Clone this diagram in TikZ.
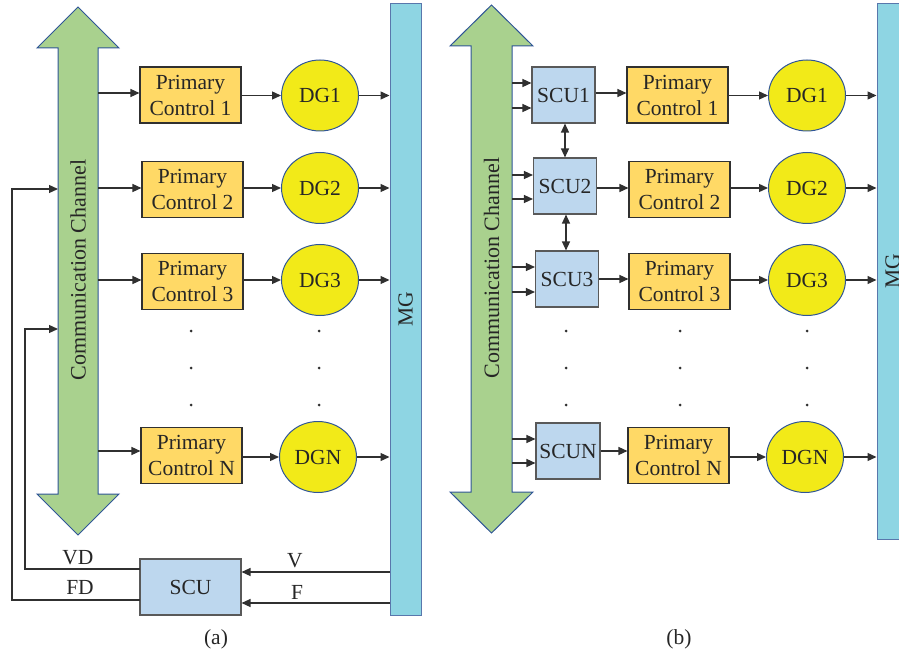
\documentclass[tikz,border=0pt]{standalone}
\usepackage{fontspec}
\setmainfont{Liberation Serif}
\usetikzlibrary{shapes.geometric,arrows.meta,calc}
\definecolor{chgreen}{HTML}{A9D18E}
\definecolor{chborder}{HTML}{2F5597}
\definecolor{pcfill}{HTML}{FFD966}
\definecolor{dgfill}{HTML}{F2EA18}
\definecolor{mgfill}{HTML}{8ED5E3}
\definecolor{scufill}{HTML}{BDD7EE}
\definecolor{darkline}{HTML}{303030}
\begin{document}
\begin{tikzpicture}[x=1pt,y=-1pt,
  every node/.style={font=\fontsize{21.5}{26}\selectfont, text=black!85},
  pcbox/.style={draw=darkline, line width=1.1pt, fill=pcfill, minimum width=101pt, minimum height=56pt, inner sep=0pt, align=center},
  scubox/.style={draw=darkline!80, line width=1.1pt, fill=scufill, minimum width=63pt, minimum height=56pt, inner sep=0pt, align=center},
  dgnode/.style={ellipse, draw=chborder, line width=1pt, fill=dgfill, minimum width=77pt, minimum height=71pt, inner sep=0pt},
  mgbar/.style={draw=chborder!80, line width=1pt, fill=mgfill, rotate=90, inner sep=0pt},
  chan/.style={draw=chborder, line width=1pt, fill=chgreen},
  arr/.style={draw=darkline, line width=1.3pt, -{Triangle[length=9pt,width=8pt]}},
  darr/.style={draw=darkline, line width=1.3pt, {Triangle[length=9pt,width=8pt]}-{Triangle[length=9pt,width=8pt]}},
  lbl/.style={inner sep=0pt},
  chantext/.style={inner sep=0pt, rotate=90, font=\fontsize{22}{26}\selectfont},
  dotm/.style={fill=darkline}
]
\useasboundingbox (0,0) rectangle (899,652);

% ================= (a) =================
\path[chan] (58,48) -- (37,48) -- (78,7) -- (119,48) -- (98,48) -- (98,494) -- (119,494) -- (78,535) -- (37,494) -- (58,494) -- cycle;
\node[chantext] (chanA) at (78,270) {Communication Channel};

\node[mgbar, minimum width=611pt, minimum height=31pt] (mgA) at (405.5,309.5) {MG};

\node[pcbox] (pa1) at (190.5,95) {Primary\\Control 1};
\node[pcbox] (pa2) at (192.5,189.5) {Primary\\Control 2};
\node[pcbox] (pa3) at (192.5,281.5) {Primary\\Control 3};
\node[pcbox] (paN) at (191.5,455.5) {Primary\\Control N};

\node[dgnode] (da1) at (320,95.5) {DG1};
\node[dgnode] (da2) at (320,188) {DG2};
\node[dgnode] (da3) at (320,280) {DG3};
\node[dgnode] (daN) at (318,457) {DGN};

\node[scubox, minimum width=101pt] (scuA) at (190.5,587) {SCU};

\coordinate (ca1) at (98,93);
\coordinate (ca2) at (98,188);
\coordinate (ca3) at (98,280);
\coordinate (caN) at (98,451);
\draw[arr] (ca1) -- (ca1 -| pa1.west);
\draw[arr] (ca2) -- (ca2 -| pa2.west);
\draw[arr] (ca3) -- (ca3 -| pa3.west);
\draw[arr] (caN) -- (caN -| paN.west);

\draw[arr] (da1.west -| pa1.east) -- (da1.west);
\draw[arr] (da2.west -| pa2.east) -- (da2.west);
\draw[arr] (da3.west -| pa3.east) -- (da3.west);
\draw[arr] (daN.west -| paN.east) -- (daN.west);

\draw[arr] (da1.east) -- (da1.east -| mgA.north);
\draw[arr] (da2.east) -- (da2.east -| mgA.north);
\draw[arr] (da3.east) -- (da3.east -| mgA.north);
\draw[arr] (daN.east) -- (daN.east -| mgA.north);

% feedback
\coordinate (vdin) at (58,329);
\coordinate (fdin) at (58,189);
\coordinate (vdout) at (140,569);
\coordinate (fdout) at (140,600);
\draw[arr] (vdout) -| ([xshift=-33pt]vdin) -- (vdin);
\draw[arr] (fdout) -| ([xshift=-46pt]fdin) -- (fdin);
\node[lbl] (vdl) at (78,558) {VD};
\node[lbl] (fdl) at (80,587) {FD};

\coordinate (vsrc) at (390,572);
\coordinate (fsrc) at (390,603);
\draw[arr] (vsrc) -- (vsrc -| scuA.east);
\draw[arr] (fsrc) -- (fsrc -| scuA.east);
\node[lbl] (vl) at (295,561) {V};
\node[lbl] (fl) at (297,592) {F};

\foreach \yy in {331,368,405} {
  \fill[dotm] (191,\yy) circle (1.5pt);
  \fill[dotm] (319,\yy) circle (1.5pt);
}
\node[lbl] (capa) at (216,639) {(a)};

% ================= (b) =================
\path[chan] (471,46) -- (450,46) -- (491.5,5) -- (533,46) -- (512,46) -- (512,492) -- (533,492) -- (491.5,533) -- (450,492) -- (471,492) -- cycle;
\node[chantext] (chanB) at (491.5,268) {Communication Channel};

\node[mgbar, minimum width=535pt, minimum height=31pt] (mgB) at (892.5,271.5) {MG};

\node[scubox] (sb1) at (563.5,95) {SCU1};
\node[scubox] (sb2) at (565,186) {SCU2};
\node[scubox] (sb3) at (567,279) {SCU3};
\node[scubox, minimum width=64pt] (sbN) at (568,451) {SCUN};

\node[pcbox] (pb1) at (677.5,95) {Primary\\Control 1};
\node[pcbox] (pb2) at (679.5,189.5) {Primary\\Control 2};
\node[pcbox] (pb3) at (679.5,281.5) {Primary\\Control 3};
\node[pcbox] (pbN) at (678.5,455.5) {Primary\\Control N};

\node[dgnode] (db1) at (807,95.5) {DG1};
\node[dgnode] (db2) at (807,188) {DG2};
\node[dgnode] (db3) at (807,280) {DG3};
\node[dgnode] (dbN) at (805,457) {DGN};

\coordinate (cb1a) at (512,83);
\coordinate (cb1b) at (512,108);
\coordinate (cb2a) at (512,175);
\coordinate (cb2b) at (512,199);
\coordinate (cb3a) at (512,267);
\coordinate (cb3b) at (512,292);
\coordinate (cbNa) at (512,439);
\coordinate (cbNb) at (512,463);
\draw[arr] (cb1a) -- (cb1a -| sb1.west);
\draw[arr] (cb1b) -- (cb1b -| sb1.west);
\draw[arr] (cb2a) -- (cb2a -| sb2.west);
\draw[arr] (cb2b) -- (cb2b -| sb2.west);
\draw[arr] (cb3a) -- (cb3a -| sb3.west);
\draw[arr] (cb3b) -- (cb3b -| sb3.west);
\draw[arr] (cbNa) -- (cbNa -| sbN.west);
\draw[arr] (cbNb) -- (cbNb -| sbN.west);

\draw[darr] ([xshift=1.5pt]sb1.south) -- ([xshift=1.5pt]sb1.south |- sb2.north);
\draw[darr] ([xshift=1pt]sb2.south) -- ([xshift=1pt]sb2.south |- sb3.north);

\draw[arr] ([yshift=2pt]sb1.east) -- ([yshift=2pt]sb1.east -| pb1.west);
\draw[arr] ([yshift=-2pt]sb2.east) -- ([yshift=-2pt]sb2.east -| pb2.west);
\draw[arr] (sb3.east) -- (sb3.east -| pb3.west);
\draw[arr] (sbN.east) -- (sbN.east -| pbN.west);

\draw[arr] (db1.west -| pb1.east) -- (db1.west);
\draw[arr] (db2.west -| pb2.east) -- (db2.west);
\draw[arr] (db3.west -| pb3.east) -- (db3.west);
\draw[arr] (dbN.west -| pbN.east) -- (dbN.west);

\draw[arr] (db1.east) -- (db1.east -| mgB.north);
\draw[arr] (db2.east) -- (db2.east -| mgB.north);
\draw[arr] (db3.east) -- (db3.east -| mgB.north);
\draw[arr] (dbN.east) -- (dbN.east -| mgB.north);

\foreach \yy in {331,368,405} {
  \fill[dotm] (566,\yy) circle (1.5pt);
  \fill[dotm] (680,\yy) circle (1.5pt);
  \fill[dotm] (807,\yy) circle (1.5pt);
}
\node[lbl] (capb) at (679,639) {(b)};
\end{tikzpicture}
\end{document}
